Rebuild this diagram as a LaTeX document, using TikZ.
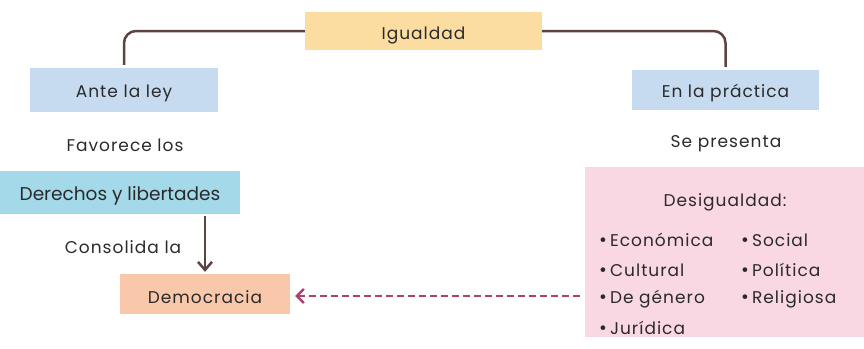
\documentclass[tikz,border=0pt]{standalone}
\usepackage{fontspec}
\setmainfont{Poppins}[LetterSpace=6]
\newfontfamily\tightfont{Poppins}
\usetikzlibrary{arrows.meta}
\definecolor{igfill}{HTML}{FBDDA2}
\definecolor{bluefill}{HTML}{C6DAF0}
\definecolor{cyanfill}{HTML}{A3D9E8}
\definecolor{salmonfill}{HTML}{F9C8AA}
\definecolor{pinkfill}{HTML}{F9D8E3}
\definecolor{brownline}{HTML}{5A4340}
\definecolor{magline}{HTML}{B0406F}
\definecolor{txt}{HTML}{2A2A2A}
\newcommand{\bul}{{\tightfont\fontsize{19}{15}\selectfont •}\hspace{3pt}}
\tikzset{
  box/.style={rectangle, inner sep=0pt, text=txt, font=\fontsize{17}{20}\selectfont, text depth=0pt},
  lbl/.style={inner sep=0pt, text=txt, font=\fontsize{17}{20}\selectfont},
  conn/.style={draw=brownline, line width=2.5pt},
}
\begin{document}
\begin{tikzpicture}[x=1pt,y=-1pt]
\useasboundingbox (0,0) rectangle (864,348);
\node[box, fill=igfill, minimum width=237pt, minimum height=38pt, text height=17pt] (ig) at (423.5,31) {Igualdad};
\node[box, fill=bluefill, minimum width=188pt, minimum height=44pt, text height=14pt] (ante) at (124,90) {Ante la ley};
\node[box, fill=bluefill, minimum width=187pt, minimum height=40pt, text height=14pt] (prac) at (725.5,90) {En la práctica};
\node[lbl] (fav) at (125,145) {Favorece los};
\node[lbl] (sep) at (726,144) {Se presenta};
\node[box, fill=cyanfill, minimum width=240pt, minimum height=43pt, text height=16pt, font=\tightfont\fontsize{18.5}{22}\selectfont] (der) at (120,192) {Derechos y libertades};
\node[lbl] (cons) at (123,247) {Consolida la};
\node[box, fill=salmonfill, minimum width=170pt, minimum height=40pt, text height=19pt] (dem) at (205,294) {Democracia};
\node[box, fill=pinkfill, minimum width=279pt, minimum height=170pt] (des) at (724.5,252) {};
\node[lbl] (dtitle) at (725,202) {Desigualdad:};
\tikzset{item/.style={lbl, anchor=west}}
\node[item] (i1) at (599,240) {\bul Económica};
\node[item] (i2) at (599,270) {\bul Cultural};
\node[item] (i3) at (599,299) {\bul De género};
\node[item] (i4) at (599,328) {\bul Jurídica};
\node[item] (i5) at (741,240) {\bul Social};
\node[item] (i6) at (741,270) {\bul Política};
\node[item] (i7) at (741,299) {\bul Religiosa};
\draw[conn, rounded corners=12pt, shorten >=3pt] (ig.west) -| (ante.north);
\draw[conn, rounded corners=12pt, shorten >=3pt] (ig.east) -| (prac.north);
\draw[conn, -{Straight Barb[length=8pt,width=14pt]}, shorten <=2pt, shorten >=2pt] (der.south -| dem.north) -- (dem.north);
\draw[draw=magline, line width=2.5pt, dash pattern=on 7pt off 4pt, -{Straight Barb[length=7pt,width=14pt]}, shorten <=5pt, shorten >=5pt] (des.west |- 0,296) -- (dem.east |- 0,296);
\end{tikzpicture}
\end{document}
